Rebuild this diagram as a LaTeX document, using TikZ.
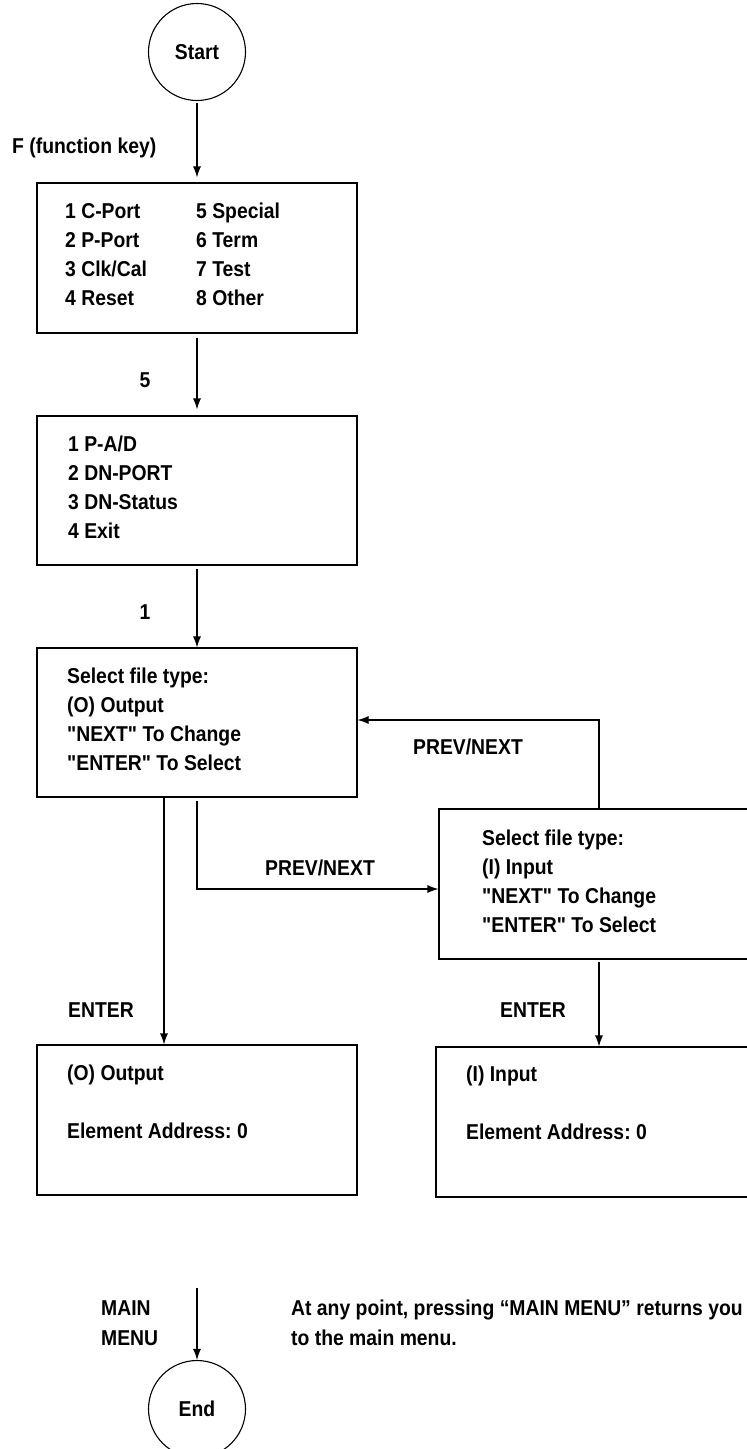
\documentclass[tikz,border=0pt]{standalone}
\usepackage{fontspec}
\setmainfont{Liberation Sans}[Ligatures=TeXOff,FakeStretch=0.9]
\usetikzlibrary{arrows.meta}
\begin{document}
\frenchspacing
\begin{tikzpicture}[x=1pt,y=-1pt,
  every node/.style={font=\bfseries\fontsize{21.5}{29.2}\selectfont},
  box/.style={draw,line width=1.1pt,minimum width=320pt,minimum height=150pt,inner sep=0pt},
  term/.style={draw,circle,line width=1.1pt,minimum size=97pt,inner sep=0pt},
  txt/.style={align=left,anchor=base west,inner sep=0pt},
  lbl/.style={inner sep=0pt},
  conn/.style={line width=1.1pt,-{Latex[length=11pt,width=8pt]}},
]
\useasboundingbox (0,0) rectangle (747,1449);
\clip (0,0) rectangle (747,1449);

\node[term] (start) at (197,52) {Start};
\node[box] (b1) at (197,258) {};
\node[box,minimum height=149pt] (b2) at (197,490.5) {};
\node[box,minimum height=149pt] (b3) at (197,722.5) {};
\node[box] (b4) at (599,884) {};
\node[box] (b5) at (197,1120) {};
\node[box] (b6) at (596,1122) {};
\node[term] (end) at (197,1409) {End};

% multi-line text: anchor is the baseline of the last line
\node[txt] (t1a) at (65,305.6) {1 C-Port\\2 P-Port\\3 Clk/Cal\\4 Reset};
\node[txt] (t1b) at (196,305.6) {5 Special\\6 Term\\7 Test\\8 Other};
\node[txt] (t2) at (68,538.6) {1 P-A/D\\2 DN-PORT\\3 DN-Status\\4 Exit};
\node[txt] (t3) at (67,770.6) {Select file type:\\(O) Output\\"NEXT" To Change\\"ENTER" To Select};
\node[txt] (t4) at (482,932.6) {Select file type:\\(I) Input\\"NEXT" To Change\\"ENTER" To Select};
\node[txt] (t5) at (67,1138) {(O) Output\\[28pt]Element Address: 0};
\node[txt] (t6) at (466,1139) {(I) Input\\[28pt]Element Address: 0};

\node[txt] (lf) at (12,153) {F (function key)};
\node[lbl] (l5) at (145,380) {5};
\node[lbl] (l1) at (145,612) {1};
\node[lbl] (lp1) at (468,747) {PREV/NEXT};
\node[lbl] (lp2) at (320,868) {PREV/NEXT};
\node[lbl] (le1) at (101,1010) {ENTER};
\node[lbl] (le2) at (533,1010) {ENTER};
\node[txt] (lm) at (101,1345) {MAIN\\MENU};
\node[txt] (note) at (291,1345) {At any point, pressing “MAIN MENU” returns you\\to the main menu.};

\draw[conn,shorten <=2pt,shorten >=5pt] (start) -- (b1);
\draw[conn,shorten <=4pt,shorten >=6pt] (b1) -- (b2);
\draw[conn,shorten <=3pt] (b2) -- (b3);
\draw[conn,shorten <=3pt] (b3.south) |- ([yshift=-5pt]b4.west);
\draw[conn] (b4.north) |- ([yshift=2.5pt]b3.east);
\draw[conn] ([xshift=-33pt]b3.south) -- ([xshift=-33pt]b5.north);
\draw[conn,shorten <=2pt] (b4.south) -- (b4.south |- b6.north);
\coordinate (mm) at (197,1288);
\draw[conn] (mm) -- (end);
\end{tikzpicture}
\end{document}
